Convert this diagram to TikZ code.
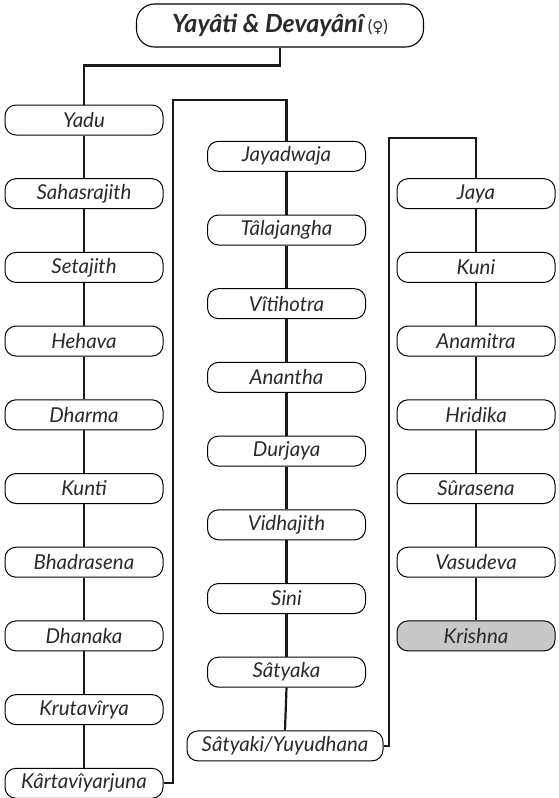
\documentclass[tikz,border=0pt]{standalone}
\usepackage{fontspec}
\setmainfont{Lato}
\newfontfamily\symbfont{DejaVu Sans}
\definecolor{txt}{HTML}{2A2A2A}
\definecolor{kfill}{HTML}{C8C8C8}
\begin{document}
\begin{tikzpicture}[x=1pt,y=1pt,
  box/.style={draw=black, line width=1pt, rounded corners=11pt, minimum width=158pt, minimum height=30pt,
    inner sep=0pt, text=txt, font=\fontsize{20.5}{22}\selectfont\itshape},
  titlebox/.style={draw=black, line width=1.1pt, rounded corners=18pt, minimum width=287pt, minimum height=43pt,
    inner sep=0pt, text=txt},
  conn/.style={draw=black!90, line width=2.2pt}]
\useasboundingbox (0,0) rectangle (558,-798);
\node[titlebox] (title) at (280,-25.5) {{\fontsize{25}{27}\selectfont\bfseries\itshape Yayâti \& Devayânî}\hspace{4pt}{\fontsize{17}{19}\selectfont(\raisebox{0.5pt}{\symbfont\fontsize{15}{17}\selectfont ♀})}};
% column 1
\foreach \n [count=\i from 0] in {Yadu, Sahasrajith, Setajith, Hehava, Dharma, Kunti, Bhadrasena, Dhanaka, Krutavîrya, Kârtavîyarjuna}
  {\node[box] (a\i) at (84,{-120-73.7*\i}) {\n};}
% column 2
\foreach \n [count=\i from 0] in {Jayadwaja, Tâlajangha, Vîtihotra, Anantha, Durjaya, Vidhajith, Sini, Sâtyaka}
  {\node[box] (b\i) at (286.5,{-156.3-73.7*\i}) {\n};}
\node[box, minimum width=196pt] (b8) at (285,{-156.3-73.7*8}) {Sâtyaki/Yuyudhana};
% column 3
\foreach \n [count=\i from 0] in {Jaya, Kuni, Anamitra, Hridika, Sûrasena, Vasudeva}
  {\node[box] (c\i) at (476,{-193.7-73.7*\i}) {\n};}
\node[box, fill=kfill] (c6) at (476,{-193.7-73.7*6}) {Krishna};
% connectors
\draw[conn] (title.south) -- ++(0,-18) -| (a0.north);
\foreach \i [evaluate=\i as \j using int(\i+1)] in {0,...,8}
  {\draw[conn] (a\i.south) -- (a\j.north);}
\foreach \i [evaluate=\i as \j using int(\i+1)] in {0,...,7}
  {\draw[conn] (b\i.south) -- (b\j.north);}
\foreach \i [evaluate=\i as \j using int(\i+1)] in {0,...,5}
  {\draw[conn] (c\i.south) -- (c\j.north);}
\coordinate (k1) at (173,-100);
\coordinate (k2) at (389,-138);
\draw[conn] (a9.east) -| (k1) -| (b0.north);
\draw[conn] (b8.east) -| (k2) -| (c0.north);
\end{tikzpicture}
\end{document}
